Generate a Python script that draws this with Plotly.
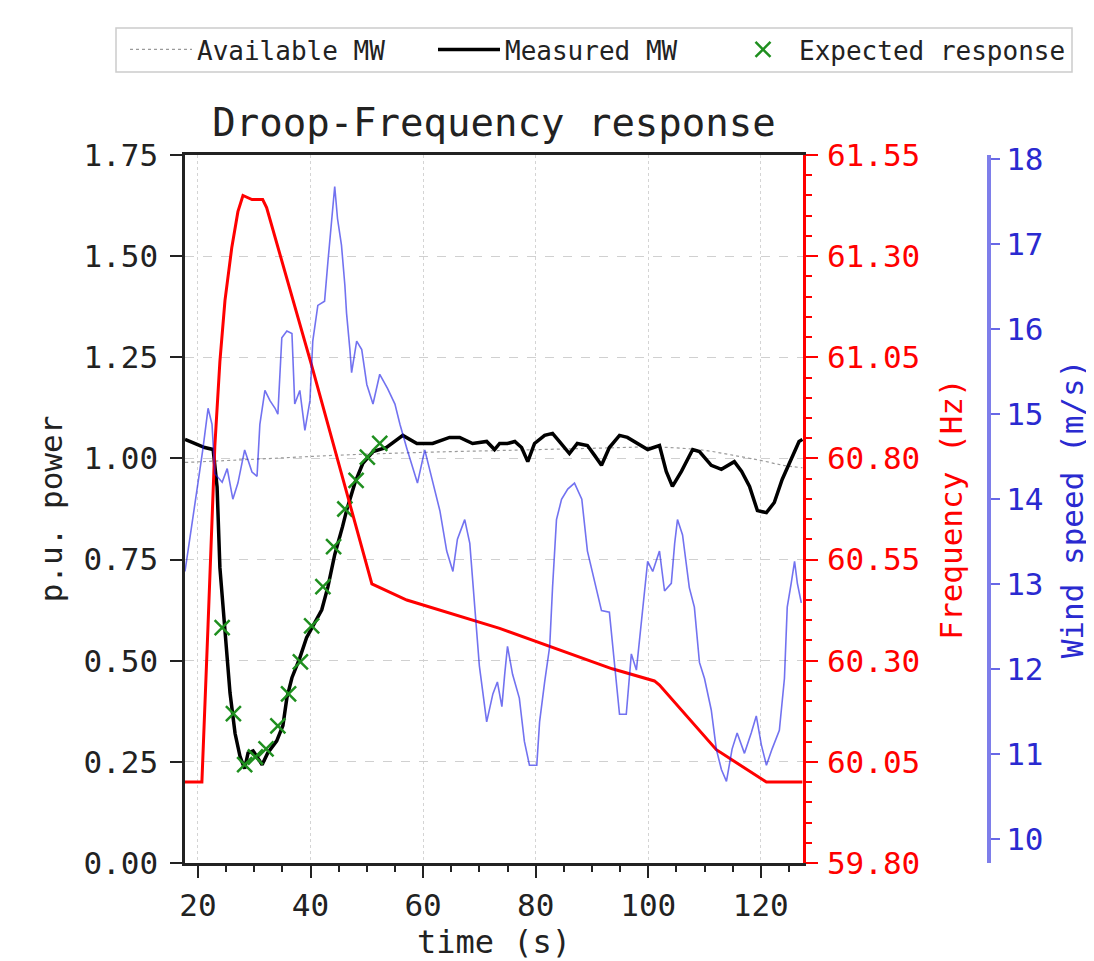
import plotly.graph_objects as go

FONT = "DejaVu Sans Mono"

# ---------------- data ----------------
time_avail = [17.7, 30, 45, 60, 75, 90, 100, 105, 110, 115, 120, 124, 127.4]
available_mw = [0.99, 0.998, 1.008, 1.015, 1.02, 1.025, 1.028, 1.026, 1.02, 1.008, 0.995, 0.983, 0.977]

time_measured = [17.7, 19.5, 21.2, 22.7, 23.4, 23.9, 24.8, 25.7, 26.6, 27.5, 28.3, 28.9, 29.8, 31.4, 32.4,
                 34.0, 35.1, 35.8, 36.7, 38.1, 39.3, 41.1, 42.0, 43.1, 44.3, 45.7, 46.4, 47.9, 49.3, 51.1,
                 53.5, 56.4, 58.9, 61.7, 64.7, 66.5, 68.8, 71.3, 72.7, 73.6, 75.0, 76.3, 77.5, 78.6, 79.8,
                 81.6, 83.0, 84.2, 86.0, 87.4, 89.2, 90.5, 91.7, 93.1, 94.9, 96.3, 98.1, 99.9, 102.0, 103.2,
                 104.3, 105.9, 107.9, 109.1, 111.2, 113.0, 115.3, 116.6, 118.0, 119.4, 121.0, 122.4, 123.8,
                 125.6, 126.8, 127.4]
measured_mw = [1.047, 1.037, 1.027, 1.022, 0.93, 0.73, 0.586, 0.42, 0.32, 0.262, 0.233, 0.272, 0.277, 0.243,
               0.272, 0.302, 0.34, 0.408, 0.458, 0.507, 0.557, 0.606, 0.626, 0.683, 0.762, 0.832, 0.871, 0.94,
               0.988, 1.017, 1.027, 1.057, 1.037, 1.037, 1.052, 1.052, 1.037, 1.042, 1.022, 1.037, 1.037,
               1.042, 1.027, 0.992, 1.037, 1.057, 1.062, 1.042, 1.012, 1.037, 1.032, 1.007, 0.983, 1.027,
               1.057, 1.052, 1.037, 1.022, 1.032, 0.968, 0.931, 0.968, 1.022, 1.017, 0.983, 0.973, 0.992,
               0.968, 0.931, 0.871, 0.866, 0.891, 0.948, 1.007, 1.042, 1.047]

time_expected = [24.3, 26.3, 28.3, 30.2, 32.1, 34.2, 36.1, 38.2, 40.2, 42.2, 44.1, 46.1, 48.1, 50.1, 52.3]
expected_response = [0.582, 0.369, 0.243, 0.262, 0.282, 0.339, 0.418, 0.497, 0.586, 0.683, 0.782, 0.875,
                     0.946, 1.003, 1.037]

time_freq = [17.7, 20.7, 21.8, 23.0, 23.9, 24.8, 26.0, 27.1, 28.0, 29.6, 31.5, 32.2, 40.2, 50.9, 57.1,
             73.6, 93.6, 101.1, 102.0, 112.1, 121.0, 127.4]
frequency = [60.0, 60.0, 60.39, 60.83, 61.04, 61.19, 61.32, 61.41, 61.45, 61.44, 61.44, 61.42, 61.03, 60.49,
             60.45, 60.38, 60.28, 60.25, 60.24, 60.08, 60.0, 60.0]

time_wind = [17.7, 18.9, 20.0, 20.9, 21.8, 22.5, 23.0, 24.3, 25.2, 26.2, 27.1, 28.3, 29.6, 30.5, 31.0, 31.9,
             32.8, 33.7, 34.2, 34.9, 35.8, 36.7, 37.2, 38.1, 39.0, 39.9, 40.4, 41.3, 42.5, 43.1, 43.8, 44.3,
             44.8, 45.5, 46.1, 46.4, 47.0, 47.3, 48.2, 49.1, 50.0, 51.1, 52.3, 53.7, 55.0, 55.9, 57.1, 58.0,
             59.0, 60.3, 61.7, 63.0, 64.2, 65.3, 66.1, 67.4, 68.3, 69.2, 70.0, 71.3, 72.4, 73.2, 74.0, 74.5,
             75.0, 75.9, 77.1, 78.0, 78.9, 80.2, 80.7, 81.6, 82.5, 83.0, 83.7, 84.6, 85.7, 86.9, 88.2, 89.2,
             90.5, 91.7, 93.1, 94.0, 94.9, 96.1, 97.0, 97.9, 98.8, 99.9, 100.8, 102.0, 102.9, 104.1, 104.7,
             105.2, 106.1, 106.8, 107.3, 108.2, 109.1, 110.0, 111.2, 112.1, 113.0, 113.9, 114.9, 115.8, 117.1,
             118.3, 119.2, 120.1, 121.0, 122.0, 123.3, 124.2, 124.7, 125.4, 126.0, 126.5, 127.2]
wind_speed = [13.15, 13.67, 14.19, 14.6, 15.07, 14.88, 14.3, 14.2, 14.36, 14.0, 14.19, 14.58, 14.32, 14.27,
              14.88, 15.28, 15.16, 15.07, 15.0, 15.9, 15.98, 15.95, 15.12, 15.28, 14.81, 15.16, 15.86, 16.28,
              16.33, 16.8, 17.3, 17.68, 17.3, 16.99, 16.52, 16.19, 15.76, 15.49, 15.86, 15.76, 15.35, 15.12,
              15.47, 15.3, 15.12, 14.88, 14.6, 14.41, 14.19, 14.58, 14.19, 13.86, 13.39, 13.15, 13.53, 13.76,
              13.48, 12.73, 12.04, 11.38, 11.71, 11.85, 11.56, 11.94, 12.27, 11.94, 11.66, 11.15, 10.87, 10.87,
              11.38, 11.85, 12.27, 12.96, 13.76, 14.0, 14.12, 14.19, 14.0, 13.39, 13.01, 12.69, 12.67, 12.04,
              11.47, 11.47, 12.18, 11.99, 12.55, 13.27, 13.15, 13.39, 12.92, 13.01, 13.48, 13.76, 13.58, 13.25,
              12.96, 12.73, 12.08, 11.89, 11.52, 11.06, 10.82, 10.68, 11.06, 11.25, 11.01, 11.25, 11.45, 11.11,
              10.87, 11.06, 11.28, 11.89, 12.73, 13.01, 13.27, 13.01, 12.78]

x_ticks = [20, 40, 60, 80, 100, 120]
power_ticks = [0.0, 0.25, 0.5, 0.75, 1.0, 1.25, 1.5, 1.75]
freq_ticks = [59.80, 60.05, 60.30, 60.55, 60.80, 61.05, 61.30, 61.55]
wind_ticks = [10, 11, 12, 13, 14, 15, 16, 17, 18]

# ---------------- figure ----------------
fig = go.Figure()

fig.add_trace(go.Scatter(x=time_avail, y=available_mw, mode="lines", name="Available MW", legend="legend",
                         line=dict(color="#9a9a9a", width=1.2, dash="dot", shape="spline"), yaxis="y"))
fig.add_trace(go.Scatter(x=time_measured, y=measured_mw, mode="lines", name="Measured MW", legend="legend2",
                         line=dict(color="black", width=3.5), yaxis="y"))
fig.add_trace(go.Scatter(x=time_freq, y=frequency, mode="lines", name="Frequency", showlegend=False,
                         line=dict(color="red", width=3), yaxis="y2"))
fig.add_trace(go.Scatter(x=time_wind, y=wind_speed, mode="lines", name="Wind speed", showlegend=False,
                         line=dict(color="rgba(20,20,230,0.6)", width=1.6), yaxis="y3"))
fig.add_trace(go.Scatter(x=time_expected, y=expected_response, mode="markers", name="Expected response",
                         legend="legend3",
                         marker=dict(symbol="x-thin-open", size=15, color="#1f8f1f",
                                     line=dict(color="#1f8f1f", width=2.5)), yaxis="y"))

W, H = 1086, 953
L, R, T, B = 177, 105, 147, 98
PW, PH = W - L - R, H - T - B
dom = 618 / PW


def px_x(px):
    return (px - L) / PW


def px_y(py):
    return (H - B - py) / PH


def leg(xpx):
    return dict(orientation="h", xref="container", yref="container", x=xpx / W, y=1 - 18 / H,
                xanchor="left", yanchor="top", bgcolor="rgba(0,0,0,0)", borderwidth=0,
                font=dict(family=FONT, size=26, color="#222"), itemwidth=62)


fig.update_layout(
    width=W, height=H,
    margin=dict(l=L, r=R, t=T, b=B, autoexpand=False),
    plot_bgcolor="white", paper_bgcolor="white",
    font=dict(family=FONT, size=31, color="#222"),
    title=dict(text="Droop-Frequency response", font=dict(family=FONT, size=39, color="#222"),
               x=dom / 2, xref="paper", xanchor="center",
               y=1 - 114 / H, yref="container", yanchor="middle"),
    showlegend=True,
    legend=leg(117),
    legend2=leg(425),
    legend3=leg(719),
    shapes=[dict(type="rect", xref="paper", yref="paper", x0=px_x(108), x1=px_x(1064),
                 y0=px_y(64), y1=px_y(20), line=dict(color="#cccccc", width=1.5),
                 fillcolor="white", layer="below")],
    xaxis=dict(domain=[0, dom], range=[17.7, 127.5], tickvals=x_ticks, ticks="outside", ticklen=12,
               tickwidth=2, tickcolor="#222", showline=True, linecolor="#222", linewidth=2.5, mirror=True,
               ticklabelstandoff=1, automargin=True,
               showgrid=True, gridcolor="#d4d4d4", griddash="dot", gridwidth=1, zeroline=False,
               minor=dict(dtick=5, tick0=0, ticks="outside", ticklen=6, tickcolor="#222", showgrid=False),
               title=dict(text="time (s)", font=dict(family=FONT, size=32), standoff=10)),
    yaxis=dict(range=[0, 1.75], tickvals=power_ticks, tickformat=".2f", ticks="outside", ticklen=12,
               tickwidth=2, tickcolor="#222", showline=True, linecolor="#222", linewidth=2.5,
               ticklabelstandoff=6, automargin=False,
               showgrid=True, gridcolor="#d0d0d0", griddash="dash", gridwidth=1, zeroline=False,
               title=dict(text="p.u. power", font=dict(family=FONT, size=31), standoff=12)),
    yaxis2=dict(range=[59.80, 61.55], overlaying="y", side="right", anchor="x", tickvals=freq_ticks,
                tickformat=".2f", ticks="outside", ticklen=12, tickwidth=2, tickcolor="red",
                ticklabelstandoff=3, automargin=False,
                tickfont=dict(color="red", family=FONT, size=31), showline=True, linecolor="red",
                linewidth=2.5, showgrid=False, zeroline=False,
                minor=dict(dtick=0.05, tick0=59.80, ticks="outside", ticklen=6, tickcolor="red"),
                title=dict(text="Frequency (Hz)", font=dict(family=FONT, size=31, color="red"), standoff=22)),
    yaxis3=dict(range=[9.72, 18.05], overlaying="y", side="right", anchor="free", position=1.0,
                tickvals=wind_ticks, ticks="outside", ticklen=9, tickwidth=2, automargin=False,
                tickcolor="rgba(40,40,220,0.7)",
                tickfont=dict(color="#2a2ad0", family=FONT, size=31), showline=True,
                linecolor="rgba(40,40,220,0.6)", linewidth=4, showgrid=False, zeroline=False,
                title=dict(text="Wind speed (m/s)", font=dict(family=FONT, size=31, color="#2a2ad0"),
                           standoff=18)),
)

fig.write_html("out.html")
